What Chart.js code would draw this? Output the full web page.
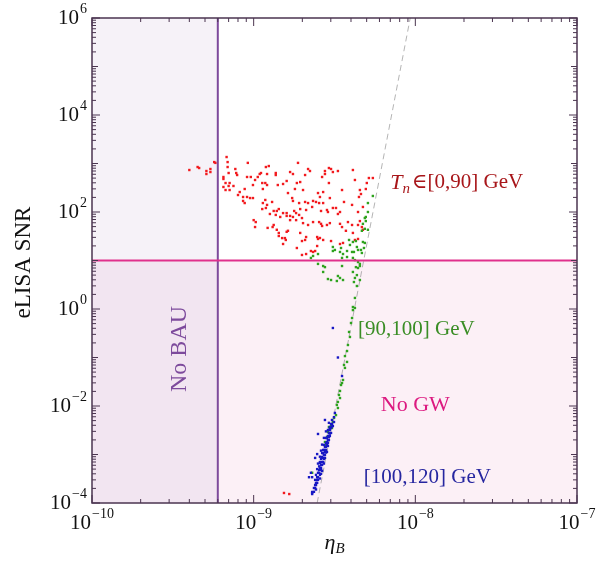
<!DOCTYPE html>
<html>
<head>
<meta charset="utf-8">
<script src="https://cdn.jsdelivr.net/npm/chart.js@4.4.1/dist/chart.umd.min.js"></script>
<style>
  body { margin: 0; background: #fff; }
  #wrap { width: 606px; height: 565px; }
</style>
</head>
<body>
<div id="wrap"><canvas id="snrChart" width="606" height="565"></canvas></div>
<script>
// eta_B vs eLISA SNR: [etaB, SNR]
const redPoints = [
  [0.40e-9, 734], [0.45e-9, 846], [0.46e-9, 807], [0.51e-9, 700], [0.51e-9, 607],
  [0.54e-9, 770], [0.54e-9, 667], [0.57e-9, 1070], [0.58e-9, 1030], [0.68e-9, 1360],
  [0.69e-9, 1070], [0.69e-9, 846], [0.65e-9, 527], [0.65e-9, 479], [0.67e-9, 396],
  [0.71e-9, 396], [0.65e-9, 328], [0.70e-9, 344], [0.67e-9, 284], [0.71e-9, 284],
  [0.75e-9, 344], [0.78e-9, 637], [0.79e-9, 579], [0.70e-9, 637], [0.77e-9, 770],
  [0.92e-9, 1030], [0.96e-9, 527], [0.91e-9, 527], [0.88e-9, 298], [0.82e-9, 258],
  [0.80e-9, 224], [0.86e-9, 204], [0.91e-9, 204], [0.86e-9, 169], [0.88e-9, 153],
  [0.95e-9, 194], [0.99e-9, 194], [1.02e-9, 457], [0.99e-9, 360], [1.06e-9, 527],
  [1.09e-9, 607], [1.13e-9, 396], [1.11e-9, 637], [1.19e-9, 846], [1.24e-9, 887],
  [1.21e-9, 607], [1.18e-9, 396], [1.21e-9, 360], [1.14e-9, 298], [1.18e-9, 177],
  [1.14e-9, 153], [1.21e-9, 140], [1.13e-9, 115], [1.19e-9, 121], [1.30e-9, 161],
  [1.37e-9, 637], [1.37e-9, 579], [1.41e-9, 360], [1.52e-9, 378], [1.60e-9, 436],
  [1.68e-9, 667], [1.63e-9, 246], [1.33e-9, 105], [1.39e-9, 105], [1.43e-9, 115],
  [1.52e-9, 95], [1.60e-9, 95], [1.68e-9, 83], [1.37e-9, 87], [1.26e-9, 91],
  [1.88e-9, 1030], [1.75e-9, 607], [1.85e-9, 396], [1.80e-9, 298], [1.94e-9, 415],
  [2.08e-9, 579], [2.17e-9, 770], [2.23e-9, 700], [2.02e-9, 284], [1.73e-9, 194],
  [1.75e-9, 169], [1.91e-9, 153], [2.08e-9, 161], [2.17e-9, 153], [2.33e-9, 169],
  [2.43e-9, 161], [2.50e-9, 246], [2.69e-9, 258], [2.57e-9, 204], [2.54e-9, 153],
  [2.69e-9, 153], [2.96e-9, 194], [2.84e-9, 110], [2.61e-9, 105], [2.88e-9, 100],
  [3.09e-9, 121], [3.23e-9, 121], [3.42e-9, 100], [3.32e-9, 91], [2.30e-9, 127],
  [2.11e-9, 110], [1.94e-9, 115], [1.78e-9, 105], [1.83e-9, 95], [1.75e-9, 79],
  [1.99e-9, 75], [1.91e-9, 87], [2.65e-9, 527], [2.76e-9, 607], [2.76e-9, 700],
  [2.92e-9, 807], [3.01e-9, 770], [3.09e-9, 667], [3.32e-9, 700], [2.92e-9, 396],
  [3.52e-9, 284], [3.62e-9, 161], [4.06e-9, 140], [4.23e-9, 457], [4.11e-9, 734],
  [4.54e-9, 284], [4.61e-9, 235], [4.48e-9, 204], [4.94e-9, 298], [5.01e-9, 396],
  [5.16e-9, 502], [5.46e-9, 502], [4.42e-9, 100], [4.74e-9, 127],
  [1.00e-9, 68], [1.03e-9, 62], [1.02e-9, 49], [1.22e-9, 47], [1.31e-9, 49],
  [1.33e-9, 54], [1.39e-9, 43], [1.43e-9, 37], [1.43e-9, 32], [1.50e-9, 29],
  [1.56e-9, 29], [1.58e-9, 26.5], [1.60e-9, 39], [1.63e-9, 41], [1.52e-9, 21.9],
  [1.46e-9, 79], [1.60e-9, 83], [1.68e-9, 68], [1.83e-9, 68], [2.02e-9, 59],
  [2.17e-9, 54], [2.33e-9, 62], [2.54e-9, 62], [2.61e-9, 57], [2.65e-9, 51.5],
  [2.84e-9, 54], [2.96e-9, 59], [3.42e-9, 57], [3.52e-9, 49], [3.72e-9, 41],
  [3.83e-9, 62], [4.06e-9, 54], [4.42e-9, 54], [4.54e-9, 65], [4.67e-9, 49],
  [4.74e-9, 43], [1.94e-9, 37], [2.11e-9, 30.5], [2.08e-9, 26.5], [1.99e-9, 25.2],
  [2.47e-9, 30.5], [2.50e-9, 27.8], [2.57e-9, 29.1], [2.69e-9, 26.5], [3.01e-9, 25.2],
  [3.42e-9, 21.9], [3.57e-9, 23.0], [4.11e-9, 37], [4.23e-9, 26.5], [4.42e-9, 27.8],
  [2.47e-9, 19.9], [2.26e-9, 15.7], [2.33e-9, 15.0], [2.40e-9, 15.7], [2.11e-9, 13.6],
  [1.85e-9, 18.1], [1.99e-9, 13.0], [1.54e-9, 1.61e-4], [1.66e-9, 1.53e-4]
];

const greenPoints = [
  [5.46e-9, 214], [5.09e-9, 153], [5.09e-9, 100], [4.94e-9, 79], [4.87e-9, 75],
  [4.94e-9, 65], [4.74e-9, 57], [4.87e-9, 45], [4.67e-9, 41], [5.09e-9, 43],
  [4.74e-9, 24.1], [4.87e-9, 23.0], [4.29e-9, 25.2], [3.89e-9, 26.5], [4.11e-9, 24.1],
  [3.94e-9, 20.9], [4.35e-9, 19.0], [4.61e-9, 16.5], [4.42e-9, 16.5], [4.17e-9, 15.0],
  [4.81e-9, 18.1], [4.67e-9, 14.3], [3.09e-9, 19.0], [3.18e-9, 16.5], [3.09e-9, 15.7],
  [3.47e-9, 18.1], [3.42e-9, 15.0], [3.57e-9, 13.6], [3.52e-9, 11.3], [3.78e-9, 15.7],
  [4.06e-9, 15.0], [3.78e-9, 11.8], [2.50e-9, 13.6], [2.33e-9, 12.4], [2.26e-9, 11.3],
  [4.11e-9, 11.3], [4.23e-9, 10.2], [4.42e-9, 9.3], [4.54e-9, 8.5], [2.50e-9, 8.5],
  [2.69e-9, 7.7], [2.76e-9, 7.3], [3.52e-9, 7.7], [4.29e-9, 7.3], [2.69e-9, 5.8],
  [4.54e-9, 7.7], [4.42e-9, 7.0], [4.11e-9, 5.8], [4.35e-9, 5.0], [4.23e-9, 4.36],
  [4.54e-9, 3.96], [4.17e-9, 3.60], [2.88e-9, 4.15], [3.01e-9, 3.96], [3.32e-9, 4.79],
  [3.42e-9, 4.36], [3.57e-9, 3.96], [3.27e-9, 3.78], [4.35e-9, 2.98], [4.23e-9, 1.69],
  [4.11e-9, 1.10], [4.23e-9, 1.05], [4.11e-9, 0.95], [4.06e-9, 0.652], [4.00e-9, 0.514],
  [3.89e-9, 0.336], [3.94e-9, 0.265], [3.83e-9, 0.181], [3.78e-9, 0.136], [3.67e-9, 0.107],
  [3.78e-9, 0.081], [3.62e-9, 0.070], [3.67e-9, 0.061], [3.57e-9, 0.0344], [3.52e-9, 0.0298],
  [3.47e-9, 0.0271], [3.42e-9, 0.0204], [3.37e-9, 0.0169], [3.42e-9, 0.0146], [3.32e-9, 0.0121],
  [3.27e-9, 0.0105], [3.32e-9, 0.0091], [3.23e-9, 0.0065], [3.14e-9, 0.00566], [3.09e-9, 0.00468],
  [3.01e-9, 0.00387], [2.92e-9, 0.00369], [3.05e-9, 0.00352], [2.88e-9, 0.00291], [2.84e-9, 0.0023],
  [2.76e-9, 0.00181], [2.80e-9, 0.00157], [2.30e-9, 4.2e-4]
];

const bluePoints = [
  [3.32e-9, 0.10], [3.09e-9, 0.406], [3.52e-9, 0.0415], [2.76e-9, 0.00515], [3.18e-9, 0.0072],
  [3.14e-9, 0.0059], [3.05e-9, 0.00426], [2.96e-9, 0.00352], [3.05e-9, 0.00515], [3.01e-9, 0.00426],
  [2.96e-9, 0.00369], [2.88e-9, 0.00320], [2.92e-9, 0.00278], [2.88e-9, 0.00241], [2.84e-9, 0.00219],
  [2.88e-9, 0.00199], [2.80e-9, 0.00173], [2.84e-9, 0.00157], [2.76e-9, 0.00143], [2.72e-9, 0.00124],
  [2.84e-9, 0.00113], [2.69e-9, 0.00107], [2.76e-9, 9.8e-4], [2.65e-9, 8.9e-4], [2.72e-9, 8.1e-4],
  [2.65e-9, 7.0e-4], [2.57e-9, 6.7e-4], [2.65e-9, 6.1e-4], [2.61e-9, 5.3e-4], [2.54e-9, 4.8e-4],
  [2.50e-9, 4.2e-4], [2.57e-9, 3.8e-4], [2.47e-9, 3.4e-4], [2.50e-9, 3.0e-4], [2.43e-9, 2.6e-4],
  [2.40e-9, 2.35e-4], [2.36e-9, 2.04e-4], [2.30e-9, 1.69e-4], [2.50e-9, 0.00265], [2.47e-9, 0.00102],
  [2.40e-9, 8.5e-4], [2.20e-9, 3.4e-4], [2.30e-9, 3.4e-4], [2.30e-9, 1.61e-4], [2.26e-9, 4.2e-4],
  [2.30e-9, 1.53e-4], [2.96e-9, 0.0032], [3.01e-9, 0.00278], [2.96e-9, 0.00241], [2.92e-9, 0.00199],
  [2.88e-9, 0.00173], [2.80e-9, 0.00143], [2.80e-9, 0.00124], [2.76e-9, 0.00113], [2.72e-9, 9.8e-4],
  [2.69e-9, 8.5e-4], [2.69e-9, 7.0e-4], [2.61e-9, 6.1e-4], [2.57e-9, 5.3e-4], [2.61e-9, 4.8e-4],
  [2.54e-9, 4.2e-4], [2.50e-9, 3.4e-4], [2.47e-9, 3.0e-4], [2.47e-9, 2.6e-4], [2.43e-9, 2.35e-4],
  [2.40e-9, 2.04e-4], [2.80e-9, 0.00219], [2.84e-9, 0.00181], [2.72e-9, 0.00157], [2.69e-9, 0.00124],
  [2.65e-9, 0.00107], [2.61e-9, 8.1e-4], [2.57e-9, 7.0e-4], [2.54e-9, 5.7e-4], [3.01e-9, 0.00352],
  [2.92e-9, 0.0032], [3.09e-9, 0.00387], [3.14e-9, 0.00468],
  [2.92e-9, 0.0045], [2.80e-9, 0.0030], [2.72e-9, 0.0022], [2.65e-9, 0.0016], [2.61e-9, 0.0012],
  [2.57e-9, 9.0e-4], [2.50e-9, 6.5e-4], [2.47e-9, 5.0e-4], [2.43e-9, 3.8e-4], [2.40e-9, 3.0e-4],
  [3.05e-9, 0.0038], [2.96e-9, 0.0027], [2.92e-9, 0.0023], [2.88e-9, 0.0015], [2.80e-9, 0.0011],
  [2.76e-9, 8.5e-4], [2.72e-9, 6.5e-4], [2.65e-9, 4.6e-4], [2.61e-9, 4.0e-4], [2.57e-9, 3.2e-4],
  [2.43e-9, 1.9e-4], [2.36e-9, 1.7e-4]
];

// dashed bound line (two end points) and the cuts
const boundEta = [2.47e-9, 9.3e-9];
const boundSnr = [1e-4, 1e6];
const etaObs = 6e-10;
const snrCut = 10;

const xTickDecades = [-10, -9, -8, -7];
const yTickDecades = [-4, -3, -2, -1, 0, 1, 2, 3, 4, 5, 6];
const yLabelDecades = [-4, -2, 0, 2, 4, 6];

const serif = '"Liberation Serif", "DejaVu Serif", serif';

const toXY = arr => arr.map(p => ({ x: p[0], y: p[1] }));

function powLabel(ctx, exp, x, y, align) {
  const base = '10';
  const sup = exp < 0 ? '\u2212' + (-exp) : String(exp);
  ctx.font = '21px ' + serif;
  const w1 = ctx.measureText(base).width;
  ctx.font = '14px ' + serif;
  const w2 = ctx.measureText(sup).width;
  const total = w1 + w2 + 1;
  let left = x;
  if (align === 'right') left = x - total;
  if (align === 'center') left = x - total / 2;
  ctx.textAlign = 'left';
  ctx.textBaseline = 'middle';
  ctx.font = '21px ' + serif;
  ctx.fillText(base, left, y);
  ctx.font = '14px ' + serif;
  ctx.fillText(sup, left + w1 + 1, y - 9);
}

const framePlugin = {
  id: 'frame',
  beforeDatasetsDraw: chart => {
    const { ctx, chartArea: a } = chart;
    const xs = chart.scales.x, ys = chart.scales.y;
    const xo = xs.getPixelForValue(etaObs);
    const yc = ys.getPixelForValue(snrCut);
    ctx.save();
    ctx.fillStyle = '#f6f2f8';
    ctx.fillRect(a.left, a.top, xo - a.left, yc - a.top);
    ctx.fillStyle = '#fcf0f6';
    ctx.fillRect(a.left, yc, a.right - a.left, a.bottom - yc);
    ctx.fillStyle = '#f2e5f1';
    ctx.fillRect(a.left, yc, xo - a.left, a.bottom - yc);
    ctx.restore();
  },
  afterDatasetsDraw: chart => {
    const { ctx, chartArea: a } = chart;
    const xs = chart.scales.x, ys = chart.scales.y;
    const xo = xs.getPixelForValue(etaObs);
    const yc = ys.getPixelForValue(snrCut);
    ctx.save();

    // cut lines
    ctx.lineWidth = 2;
    ctx.strokeStyle = '#7d4a9c';
    ctx.beginPath(); ctx.moveTo(xo, a.top); ctx.lineTo(xo, a.bottom); ctx.stroke();
    ctx.strokeStyle = '#e0308c';
    ctx.beginPath(); ctx.moveTo(a.left, yc); ctx.lineTo(a.right, yc); ctx.stroke();

    // frame
    ctx.lineWidth = 1.5;
    ctx.strokeStyle = '#4b3550';
    ctx.strokeRect(a.left, a.top, a.right - a.left, a.bottom - a.top);

    // ticks on all four sides
    ctx.lineWidth = 1;
    ctx.strokeStyle = '#4b3550';
    ctx.beginPath();
    xTickDecades.forEach((d, i) => {
      const px = xs.getPixelForValue(Math.pow(10, d));
      ctx.moveTo(px, a.bottom); ctx.lineTo(px, a.bottom - 8);
      ctx.moveTo(px, a.top); ctx.lineTo(px, a.top + 8);
      if (i < xTickDecades.length - 1) {
        for (let m = 2; m <= 9; m++) {
          const pm = xs.getPixelForValue(m * Math.pow(10, d));
          ctx.moveTo(pm, a.bottom); ctx.lineTo(pm, a.bottom - 4);
          ctx.moveTo(pm, a.top); ctx.lineTo(pm, a.top + 4);
        }
      }
    });
    yTickDecades.forEach((d, i) => {
      const py = ys.getPixelForValue(Math.pow(10, d));
      const len = yLabelDecades.includes(d) ? 8 : 6;
      ctx.moveTo(a.left, py); ctx.lineTo(a.left + len, py);
      ctx.moveTo(a.right, py); ctx.lineTo(a.right - len, py);
      if (i < yTickDecades.length - 1) {
        for (let m = 2; m <= 9; m++) {
          const pm = ys.getPixelForValue(m * Math.pow(10, d));
          ctx.moveTo(a.left, pm); ctx.lineTo(a.left + 4, pm);
          ctx.moveTo(a.right, pm); ctx.lineTo(a.right - 4, pm);
        }
      }
    });
    ctx.stroke();

    // tick labels
    ctx.fillStyle = '#111';
    yLabelDecades.forEach(d => {
      powLabel(ctx, d, a.left - 5, ys.getPixelForValue(Math.pow(10, d)), 'right');
    });
    xTickDecades.forEach(d => {
      powLabel(ctx, d, xs.getPixelForValue(Math.pow(10, d)), a.bottom + 20, 'center');
    });

    // axis titles
    ctx.font = '23px ' + serif;
    ctx.textAlign = 'center';
    ctx.textBaseline = 'middle';
    ctx.save();
    ctx.translate(24, (a.top + a.bottom) / 2 + 2);
    ctx.rotate(-Math.PI / 2);
    ctx.fillText('eLISA SNR', 0, 0);
    ctx.restore();
    const cx = (a.left + a.right) / 2;
    ctx.font = 'italic 22px ' + serif;
    ctx.textAlign = 'left';
    ctx.fillText('\u03b7', cx - 10, 543);
    ctx.font = 'italic 15px ' + serif;
    ctx.fillText('B', cx + 1, 549);

    // region / series annotations
    ctx.font = '24px ' + serif;
    ctx.fillStyle = '#7d4a9c';
    ctx.save();
    ctx.translate(xs.getPixelForValue(3.5e-10), ys.getPixelForValue(0.15));
    ctx.rotate(-Math.PI / 2);
    ctx.textAlign = 'center';
    ctx.fillText('No BAU', 0, 0);
    ctx.restore();

    ctx.font = '22px ' + serif;
    ctx.fillStyle = '#dc1a80';
    ctx.textAlign = 'center';
    ctx.fillText('No GW', xs.getPixelForValue(1e-8), ys.getPixelForValue(0.0105));

    ctx.textAlign = 'left';
    let tx = xs.getPixelForValue(7.0e-9);
    const ty = ys.getPixelForValue(400);
    ctx.fillStyle = '#a8161a';
    ctx.font = 'italic 22px ' + serif;
    ctx.fillText('T', tx, ty);
    tx += ctx.measureText('T').width;
    ctx.font = 'italic 15px ' + serif;
    ctx.fillText('n', tx, ty + 6);
    tx += ctx.measureText('n').width + 2;
    ctx.font = '21px ' + serif;
    ctx.fillText('\u2208[0,90] GeV', tx, ty);

    ctx.fillStyle = '#3a8d25';
    ctx.fillText('[90,100] GeV', xs.getPixelForValue(4.42e-9), ys.getPixelForValue(0.37));
    ctx.fillStyle = '#2626a0';
    ctx.fillText('[100,120] GeV', xs.getPixelForValue(4.8e-9), ys.getPixelForValue(3.4e-4));

    ctx.restore();
  }
};

const pointSet = (label, pts, color) => ({
  type: 'scatter',
  label: label,
  data: toXY(pts),
  pointStyle: 'rect',
  pointRadius: 1.7,
  pointBorderWidth: 0,
  backgroundColor: color,
  borderColor: color
});

const ctx = document.getElementById('snrChart').getContext('2d');
new Chart(ctx, {
  type: 'scatter',
  data: {
    datasets: [
      pointSet('[100,120] GeV', bluePoints, '#1818c4'),
      pointSet('[90,100] GeV', greenPoints, '#2ea31e'),
      pointSet('[0,90] GeV', redPoints, '#f21a1e'),
      {
        type: 'line',
        label: 'bound',
        data: [{ x: boundEta[0], y: boundSnr[0] }, { x: boundEta[1], y: boundSnr[1] }],
        borderColor: 'rgba(140,140,140,0.65)',
        borderWidth: 1,
        borderDash: [6, 4],
        pointRadius: 0,
        fill: false
      }
    ]
  },
  options: {
    responsive: false,
    animation: false,
    layout: { padding: { left: 92, right: 29, top: 18, bottom: 62 } },
    plugins: {
      legend: { display: false },
      tooltip: { enabled: false }
    },
    scales: {
      x: { type: 'logarithmic', min: 1e-10, max: 1e-7, display: false },
      y: { type: 'logarithmic', min: 1e-4, max: 1e6, display: false }
    }
  },
  plugins: [framePlugin]
});
</script>
</body>
</html>
